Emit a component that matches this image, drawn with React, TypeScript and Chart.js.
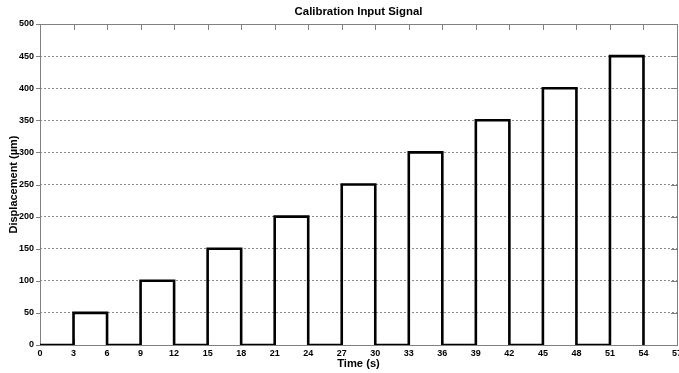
import React, { useEffect, useRef } from "react";
import { Chart, registerables } from "chart.js";

Chart.register(...registerables);

const chartTitle = "Calibration Input Signal";
const xAxisTitle = "Time (s)";
const yAxisTitle = "Displacement (µm)";

const timeS = [0, 3, 3, 6, 6, 9, 9, 12, 12, 15, 15, 18, 18, 21, 21, 24, 24, 27, 27, 30, 30, 33, 33, 36, 36, 39, 39, 42, 42, 45, 45, 48, 48, 51, 51, 54, 54];
const displacement = [0, 0, 50, 50, 0, 0, 100, 100, 0, 0, 150, 150, 0, 0, 200, 200, 0, 0, 250, 250, 0, 0, 300, 300, 0, 0, 350, 350, 0, 0, 400, 400, 0, 0, 450, 450, 0];

const xMin = 0;
const xMax = 57;
const xStep = 3;
const yMin = 0;
const yMax = 500;
const yStep = 50;

const FONT = "'Liberation Sans', Arial, Helvetica, sans-serif";

const boxPlugin = {
  id: "boxTicks",
  beforeDatasetsDraw(chart: any) {
    const { ctx, chartArea, scales } = chart;
    const { left, right, top, bottom } = chartArea;
    const tl = 6;
    ctx.save();
    ctx.strokeStyle = "#808080";
    ctx.lineWidth = 1;
    ctx.setLineDash([]);
    ctx.beginPath();
    scales.x.ticks.forEach((t: any) => {
      const px = Math.round(scales.x.getPixelForValue(t.value)) + 0.5;
      ctx.moveTo(px, bottom);
      ctx.lineTo(px, bottom - tl);
      ctx.moveTo(px, top);
      ctx.lineTo(px, top + tl);
    });
    scales.y.ticks.forEach((t: any) => {
      const py = Math.round(scales.y.getPixelForValue(t.value)) + 0.5;
      ctx.moveTo(left - 4, py);
      ctx.lineTo(left, py);
      ctx.moveTo(right, py);
      ctx.lineTo(right - tl, py);
    });
    ctx.stroke();
    ctx.strokeRect(Math.round(left) + 0.5, Math.round(top) + 0.5, Math.round(right - left), Math.round(bottom - top));
    ctx.restore();
  },
};

export default function App() {
  const ref = useRef<HTMLCanvasElement>(null);
  useEffect(() => {
    document.body.style.margin = "0";
    const points = timeS.map((t, i) => ({ x: t, y: displacement[i] }));
    const chart = new Chart(ref.current as HTMLCanvasElement, {
      type: "scatter",
      data: {
        datasets: [
          {
            data: points,
            showLine: true,
            borderColor: "#000000",
            borderWidth: 2.6,
            pointRadius: 0,
            fill: false,
            tension: 0,
          },
        ],
      },
      options: {
        responsive: false,
        animation: false,
        layout: { padding: { top: 0, left: 0, right: 2, bottom: 0 } },
        plugins: {
          legend: { display: false },
          tooltip: { enabled: false },
          title: {
            display: true,
            text: chartTitle,
            fullSize: false,
            color: "#000",
            font: { family: FONT, size: 11.4, weight: "bold", lineHeight: 1.2 },
            padding: { top: 5.5, bottom: 4.82 },
          },
        },
        scales: {
          x: {
            type: "linear",
            min: xMin,
            max: xMax,
            grid: { display: false, drawTicks: false },
            border: { display: false },
            ticks: {
              stepSize: xStep,
              autoSkip: false,
              maxRotation: 0,
              padding: 3.5,
              color: "#000",
              font: { family: FONT, size: 9, weight: "bold" },
            },
            title: {
              display: true,
              text: xAxisTitle,
              color: "#000",
              font: { family: FONT, size: 11.2, weight: "bold", lineHeight: 1.2 },
              padding: { top: 0, bottom: 2.3 },
            },
            afterFit(scale: any) {
              scale.height = 28;
              scale.paddingLeft = 0;
              scale.paddingRight = 0;
            },
          },
          y: {
            type: "linear",
            min: yMin,
            max: yMax,
            grid: { display: true, drawTicks: false, color: "#8a8a8a", lineWidth: 1 },
            border: { display: false, dash: [2, 2] },
            ticks: {
              stepSize: yStep,
              padding: 6,
              color: "#000",
              font: { family: FONT, size: 9, weight: "bold" },
            },
            title: {
              display: true,
              text: yAxisTitle,
              color: "#000",
              font: { family: FONT, size: 11, weight: "bold", lineHeight: 1.2 },
              padding: { top: 7.4, bottom: 0 },
            },
            afterFit(scale: any) {
              scale.width = 40;
              scale.paddingTop = 0;
              scale.paddingBottom = 0;
            },
          },
        },
      },
      plugins: [boxPlugin],
    } as any);
    return () => chart.destroy();
  }, []);
  return (
    <div style={{ width: 679, height: 373, background: "#fff" }}>
      <canvas ref={ref} width={679} height={373} style={{ display: "block" }} />
    </div>
  );
}
